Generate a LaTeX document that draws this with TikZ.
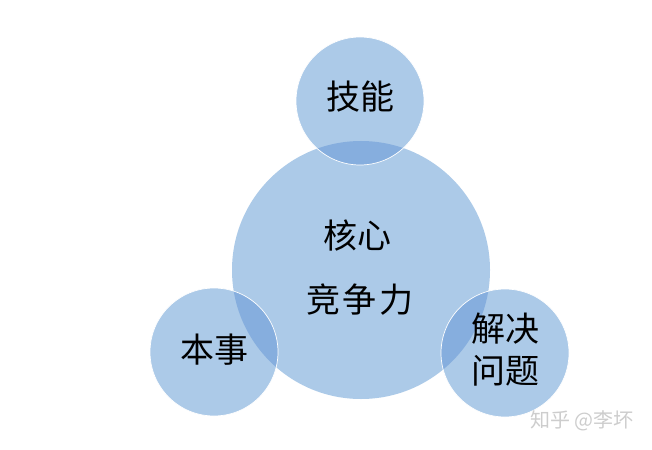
\documentclass[tikz,border=0pt]{standalone}
\usepackage{fontspec}
\newfontfamily\cjk{Noto Sans CJK SC}
\definecolor{cfill}{RGB}{172,202,232}
\definecolor{covl}{RGB}{134,174,222}
\definecolor{wm}{RGB}{205,205,205}
\tikzset{
  circ/.style={fill=cfill},
  small/.style={fill=cfill},
  lbl/.style={font=\cjk\fontsize{34}{36}\selectfont, text=black, inner sep=0pt},
}
\begin{document}
\begin{tikzpicture}[x=1pt,y=-1pt]
\useasboundingbox (0,0) rectangle (652,449);
\fill[white] (0,0) rectangle (652,449);
% big circle
\fill[circ] (361,270) circle (129);
% small circles
\fill[small] (360,101) circle (64);
\fill[small] (214,352) circle (64);
\fill[small] (505,353) circle (64);
% overlaps
\begin{scope}
  \clip (361,270) circle (129);
  \fill[covl] (360,101) circle (64);
  \fill[covl] (214,352) circle (64);
  \fill[covl] (505,353) circle (64);
\end{scope}
\draw[white, line width=0.7pt] (360,101) circle (64);
\draw[white, line width=0.7pt] (214,352) circle (64);
\draw[white, line width=0.7pt] (505,353) circle (64);
% labels
\node[lbl] (core1) at (357,236) {核心};
\node[lbl] (core2) at (360,300) {竞\hspace{3pt}争\hspace{3pt}力};
\node[lbl] (skill) at (360,97) {技能};
\node[lbl] (abil) at (214,350) {本事};
\node[lbl] (solve1) at (505,329) {解决};
\node[lbl] (solve2) at (505,371) {问题};
\node[font=\cjk\fontsize{20}{22}\selectfont, text=wm, inner sep=0pt] (wmark) at (582,421) {知乎 @李坏};
\end{tikzpicture}
\end{document}
